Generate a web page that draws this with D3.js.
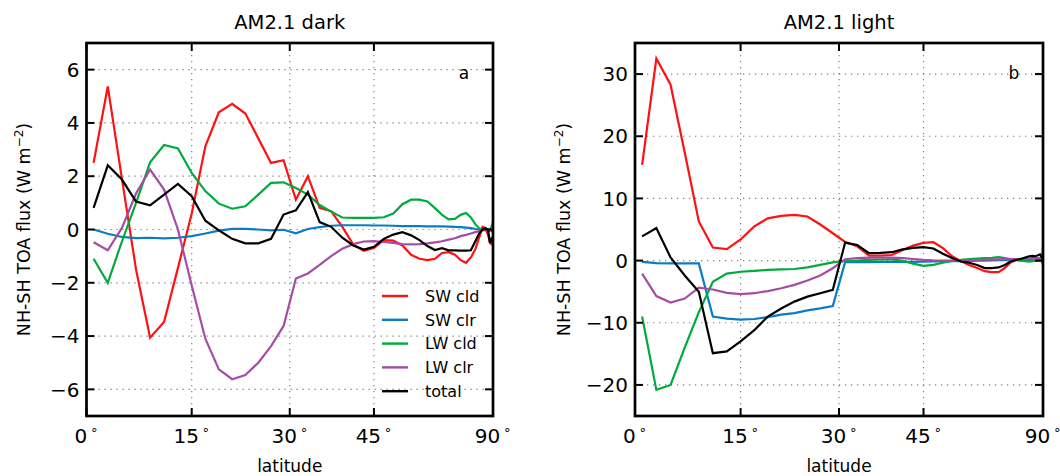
<!DOCTYPE html>
<html><head><meta charset="utf-8">
<script src="https://cdn.jsdelivr.net/npm/d3@7"></script>
<style>body{margin:0;background:#fff}svg{display:block}text{font-family:"DejaVu Sans",sans-serif;fill:#000}</style>
</head><body><svg id="c" width="1060" height="476"></svg>
<script>
const lats = [1,3,5,7,9,11,13,15,17,19,21,23,25,27,29,31,33,35,37,39,41,43,45,47,49,51,53,55,57,59,61,63,65,67,69,71,73,75,77,79,81,83,85,87,89];
const seriesNames = ["SW cld","SW clr","LW cld","LW clr","total"];
const seriesColors = ["#ff1111","#0a7dc2","#00aa3c","#a64ca6","#000000"];
const xTicks = [0,15,30,45,90];

// AM2.1 dark
const darkSWcld = [2.5,5.37,1.9,-1.5,-4.06,-3.47,-1.44,0.6,3.12,4.4,4.72,4.35,3.42,2.5,2.6,1.12,2.0,0.81,0.69,0.1,-0.56,-0.8,-0.69,-0.4,-0.42,-0.6,-0.95,-1.1,-1.15,-1.1,-0.88,-0.85,-0.95,-1.15,-1.25,-1.05,-0.75,-0.3,0.1,0.05,-0.2,-0.5,-0.55,-0.3,-0.55];
const darkSWclr = [0.0,-0.16,-0.28,-0.32,-0.31,-0.33,-0.31,-0.25,-0.15,-0.04,0.02,0.02,0.0,-0.03,-0.01,-0.14,0.02,0.09,0.14,0.16,0.16,0.16,0.15,0.15,0.14,0.13,0.13,0.13,0.12,0.12,0.12,0.11,0.1,0.09,0.07,0.05,0.02,0.0,-0.01,-0.02,0.0,-0.02,-0.02,-0.02,-0.02];
const darkLWcld = [-1.1,-2.0,-0.45,1.0,2.52,3.17,3.04,2.12,1.44,0.97,0.78,0.87,1.31,1.75,1.77,1.56,1.31,0.92,0.67,0.45,0.44,0.44,0.44,0.46,0.6,0.95,1.12,1.12,1.05,0.8,0.55,0.38,0.4,0.55,0.62,0.45,0.2,0.05,0.0,-0.02,-0.05,0.0,0.1,0.2,0.3];
const darkLWclr = [-0.48,-0.78,0.06,1.35,2.25,1.5,0.0,-2.1,-4.1,-5.25,-5.62,-5.46,-5.0,-4.38,-3.62,-1.84,-1.65,-1.33,-1.0,-0.72,-0.55,-0.45,-0.44,-0.47,-0.5,-0.55,-0.56,-0.55,-0.52,-0.48,-0.44,-0.38,-0.33,-0.25,-0.2,-0.15,-0.1,-0.06,-0.03,-0.02,-0.05,-0.06,-0.06,-0.06,-0.06];
const darkTotal = [0.81,2.41,1.875,1.05,0.91,1.31,1.71,1.25,0.33,-0.03,-0.35,-0.52,-0.52,-0.35,0.56,0.72,1.4,0.28,0.1,-0.31,-0.6,-0.75,-0.65,-0.35,-0.19,-0.1,-0.22,-0.4,-0.62,-0.77,-0.7,-0.78,-0.78,-0.79,-0.79,-0.78,-0.45,-0.15,0.0,0.05,0.0,-0.5,-0.35,-0.4,-0.5];
const darkYTicks = [-6,-4,-2,0,2,4,6];

// AM2.1 light
const lightSWcld = [15.4,32.5,28.3,17.4,6.3,2.1,1.85,3.4,5.5,6.8,7.2,7.35,7.1,5.8,4.4,3.0,2.3,0.8,0.8,0.9,1.7,2.4,2.85,2.95,2.0,0.7,-0.1,-0.7,-1.2,-1.7,-1.85,-1.85,-1.2,-0.3,0.1,0.2,0.25,0.3,0.38,0.38,0.3,0.15,0.1,0.5,2.2];
const lightSWclr = [-0.2,-0.42,-0.45,-0.45,-0.45,-9.0,-9.35,-9.5,-9.4,-9.1,-8.7,-8.45,-8.0,-7.7,-7.3,-0.25,-0.25,-0.25,-0.22,-0.2,-0.2,-0.2,-0.18,-0.15,-0.12,-0.1,-0.08,-0.05,-0.03,0.0,0.02,0.05,0.05,0.05,0.05,0.05,0.05,0.05,0.05,0.0,0.0,0.0,0.0,0.0,0.0];
const lightLWcld = [-9.0,-20.8,-20.0,-14.0,-8.3,-3.4,-2.1,-1.8,-1.65,-1.5,-1.42,-1.35,-1.1,-0.7,-0.3,-0.05,0.0,0.1,0.2,0.2,-0.05,-0.5,-0.85,-0.7,-0.35,-0.05,0.1,0.22,0.3,0.38,0.45,0.54,0.4,0.25,0.1,0.0,-0.1,-0.16,-0.1,-0.05,0.0,0.0,-0.1,-0.4,-0.7];
const lightLWclr = [-2.1,-5.7,-6.76,-6.1,-4.35,-4.65,-5.2,-5.38,-5.25,-4.9,-4.45,-3.9,-3.2,-2.4,-1.23,0.22,0.4,0.48,0.5,0.48,0.4,0.25,0.1,0.02,0.0,0.0,0.0,0.0,0.05,0.1,0.15,0.2,0.22,0.25,0.25,0.28,0.3,0.32,0.35,0.38,0.38,0.38,0.38,0.38,0.38];
const lightTotal = [3.9,5.25,0.5,-2.4,-5.0,-14.9,-14.6,-13.0,-11.2,-9.0,-7.7,-6.6,-5.8,-5.25,-4.7,2.9,2.5,1.2,1.25,1.35,1.8,2.05,2.15,1.95,1.1,0.4,-0.15,-0.35,-0.7,-1.2,-1.2,-1.1,-0.7,-0.15,0.1,0.25,0.5,0.7,0.75,0.7,0.85,1.0,0.6,0.4,0.5];
const lightYTicks = [-20,-10,0,10,20,30];

const panels = [
  {title:"AM2.1 dark", tag:"a", x0:86.5, x1:493, y0:43, y1:416, ydom:[-7,7], yticks:darkYTicks,
   series:[darkSWcld,darkSWclr,darkLWcld,darkLWclr,darkTotal], legend:true, labx:24},
  {title:"AM2.1 light", tag:"b", x0:635, x1:1043, y0:43, y1:416, ydom:[-25,35], yticks:lightYTicks,
   series:[lightSWcld,lightSWclr,lightLWcld,lightLWclr,lightTotal], legend:false, labx:564}
];

const svg = d3.select("#c");
const fmt = v => v < 0 ? "\u2212" + Math.abs(v) : String(v);

panels.forEach((p, pi) => {
  const xs = d3.scaleLinear().domain([0,1]).range([p.x0,p.x1]);
  const xLat = d => xs(Math.sin(d*Math.PI/180));
  const ys = d3.scaleLinear().domain(p.ydom).range([p.y1,p.y0]);
  const g = svg.append("g");
  const cid = "clip"+pi;
  svg.append("defs").append("clipPath").attr("id",cid).append("rect")
    .attr("x",p.x0).attr("y",p.y0).attr("width",p.x1-p.x0).attr("height",p.y1-p.y0);

  // grid
  const grid = g.append("g").attr("stroke","#808080").attr("stroke-width",1.2).attr("stroke-dasharray","1.3,4.7");
  xTicks.filter(t=>t>0&&t<90).forEach(t=>{
    grid.append("line").attr("x1",xLat(t)).attr("x2",xLat(t)).attr("y1",p.y0).attr("y2",p.y1);
  });
  p.yticks.forEach(t=>{
    grid.append("line").attr("x1",p.x0).attr("x2",p.x1).attr("y1",ys(t)).attr("y2",ys(t));
  });

  // lines
  const line = d3.line().x((d,i)=>xLat(lats[i])).y(d=>ys(d));
  const lg = g.append("g").attr("clip-path",`url(#${cid})`);
  p.series.forEach((s,si)=>{
    lg.append("path").datum(s).attr("d",line).attr("fill","none")
      .attr("stroke",seriesColors[si]).attr("stroke-width",2.2).attr("stroke-linejoin","miter");
  });

  // ticks (inside, all four sides)
  const tk = g.append("g").attr("stroke","#000").attr("stroke-width",2);
  const L = 8;
  xTicks.forEach(t=>{
    const x = xLat(t);
    tk.append("line").attr("x1",x).attr("x2",x).attr("y1",p.y1).attr("y2",p.y1-L);
    tk.append("line").attr("x1",x).attr("x2",x).attr("y1",p.y0).attr("y2",p.y0+L);
  });
  p.yticks.forEach(t=>{
    const y = ys(t);
    tk.append("line").attr("x1",p.x0).attr("x2",p.x0+L).attr("y1",y).attr("y2",y);
    tk.append("line").attr("x1",p.x1).attr("x2",p.x1-L).attr("y1",y).attr("y2",y);
  });

  // frame
  g.append("rect").attr("x",p.x0).attr("y",p.y0).attr("width",p.x1-p.x0).attr("height",p.y1-p.y0)
    .attr("fill","none").attr("stroke","#000").attr("stroke-width",2.7);

  // tick labels
  p.yticks.forEach(t=>{
    g.append("text").attr("x",p.x0-7).attr("y",ys(t)).attr("dy","0.36em")
      .attr("text-anchor","end").attr("font-size",20).text(fmt(t));
  });
  xTicks.forEach(t=>{
    const tx = g.append("text").attr("x",xLat(t)).attr("y",p.y1+27).attr("text-anchor","middle").attr("font-size",20);
    tx.append("tspan").text(t);
    tx.append("tspan").attr("dx",3).attr("dy",-9).attr("font-size",13).text("\u2218");
  });

  // labels
  g.append("text").attr("x",(p.x0+p.x1)/2).attr("y",29).attr("text-anchor","middle").attr("font-size",19.5).text(p.title);
  g.append("text").attr("x",(p.x0+p.x1)/2).attr("y",p.y1+56).attr("text-anchor","middle").attr("font-size",17).text("latitude");
  const yl = g.append("text").attr("transform",`translate(${p.labx},${(p.y0+p.y1)/2}) rotate(-90)`)
    .attr("text-anchor","middle").attr("font-size",17.5).attr("dy","0.35em");
  yl.append("tspan").text("NH-SH TOA flux (W m");
  yl.append("tspan").attr("font-size",12).attr("dy",-7).text("\u22122");
  yl.append("tspan").attr("dy",7).text(")");
  g.append("text").attr("x",p.x1-29).attr("y",p.y0+30+6).attr("text-anchor","middle").attr("font-size",17).text(p.tag);

  if (p.legend) {
    const lgd = g.append("g");
    seriesNames.forEach((n,i)=>{
      const y = 296 + i*23.8;
      lgd.append("line").attr("x1",382).attr("x2",408).attr("y1",y).attr("y2",y)
        .attr("stroke",seriesColors[i]).attr("stroke-width",2.4);
      lgd.append("text").attr("x",425).attr("y",y).attr("dy","0.36em").attr("font-size",16).text(n);
    });
  }
});
</script></body></html>
